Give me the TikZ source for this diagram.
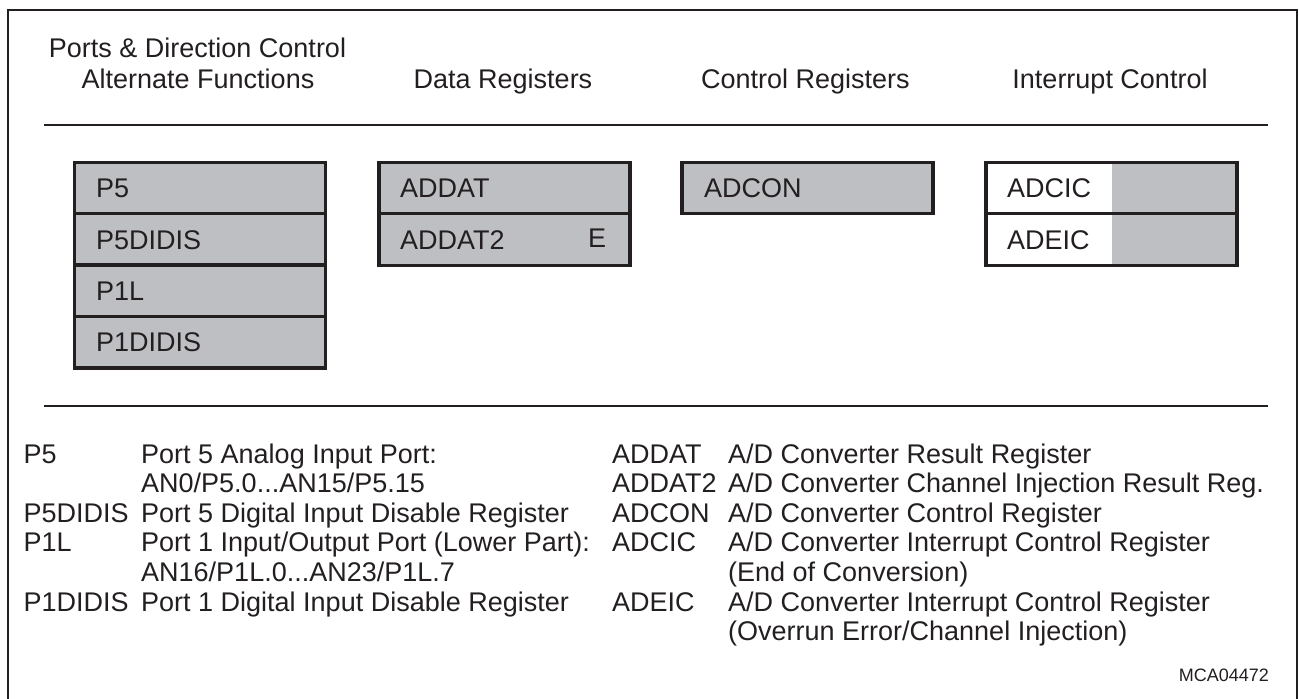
\documentclass[tikz,border=0pt]{standalone}
\usepackage{fontspec}
\setmainfont{Liberation Sans}
\definecolor{regfill}{RGB}{190,191,194}
\definecolor{ink}{RGB}{35,31,32}
\begin{document}
\begin{tikzpicture}[x=1pt,y=-1pt,
  txt/.style={inner sep=0pt, anchor=base west, text=ink, font=\fontsize{27}{29.6}\selectfont},
  ctxt/.style={txt, anchor=base},
  smalltxt/.style={inner sep=0pt, anchor=base east, text=ink, font=\fontsize{18}{20}\selectfont},
  regframe/.style={draw=ink, line width=3.4pt},
  rowline/.style={draw=ink, line width=3.4pt},
  rule/.style={draw=ink, line width=2pt},
  frameline/.style={draw=ink, line width=2.7pt}]
\useasboundingbox (0,0) rectangle (1299,699);
% outer frame
\draw[frameline] (8,699) -- (8,10) -- (1297,10) -- (1297,699);
% headers
\node[ctxt] (h1a) at (197.5,57) {Ports \& Direction Control};
\node[ctxt] (h1b) at (198,88) {Alternate Functions};
\node[ctxt] (h2) at (503,88) {Data Registers};
\node[ctxt] (h3) at (805.5,88) {Control Registers};
\node[ctxt] (h4) at (1110,88) {Interrupt Control};
% dividers
\draw[rule] (44,125) -- (1268,125);
\draw[rule] (44,406) -- (1268,406);
% ports box
\fill[regfill] (74.5,162.3) rectangle (325.5,368);
\draw[rowline] (74.5,213.7) -- (325.5,213.7);
\draw[rowline] (74.5,265.1) -- (325.5,265.1);
\draw[rowline] (74.5,316.5) -- (325.5,316.5);
\draw[regframe] (74.5,162.3) rectangle (325.5,368);
\node[txt] (p5) at (96,197.7) {P5};
\node[txt] (p5didis) at (96,249.1) {P5DIDIS};
\node[txt] (p1l) at (96,300.5) {P1L};
\node[txt] (p1didis) at (96,351.9) {P1DIDIS};
% data box
\fill[regfill] (379,162.3) rectangle (630,265.3);
\draw[rowline] (379,213.7) -- (630,213.7);
\draw[regframe] (379,162.3) rectangle (630,265.3);
\node[txt] (addat) at (400,197.7) {ADDAT};
\node[txt] (addat2) at (400,249.1) {ADDAT2};
\node[txt] (e) at (588,247) {E};
% control box
\fill[regfill] (682,162.3) rectangle (933,213.3);
\draw[regframe] (682,162.3) rectangle (933,213.3);
\node[txt] (adcon) at (704,197.5) {ADCON};
% interrupt box
\fill[white] (986,162.3) rectangle (1112,265.3);
\fill[regfill] (1112,162.3) rectangle (1237,265.3);
\draw[rowline] (986,213.7) -- (1237,213.7);
\draw[regframe] (986,162.3) rectangle (1237,265.3);
\node[txt] (adcic) at (1007,197.7) {ADCIC};
\node[txt] (adeic) at (1007,249.1) {ADEIC};
% legend left
\node[txt] (l1) at (23.5,463) {P5};
\node[txt] (d1) at (141,463) {Port 5 Analog Input Port:};
\node[txt] (d1b) at (141,492.6) {AN0/P5.0...AN15/P5.15};
\node[txt] (l2) at (23.5,522.2) {P5DIDIS};
\node[txt] (d2) at (141,522.2) {Port 5 Digital Input Disable Register};
\node[txt] (l3) at (23.5,551.8) {P1L};
\node[txt] (d3) at (141,551.8) {Port 1 Input/Output Port (Lower Part):};
\node[txt] (d3b) at (141,581.4) {AN16/P1L.0...AN23/P1L.7};
\node[txt] (l4) at (23.5,611) {P1DIDIS};
\node[txt] (d4) at (141,611) {Port 1 Digital Input Disable Register};
% legend right
\node[txt] (r1) at (612,463) {ADDAT};
\node[txt] (e1) at (728,463) {A/D Converter Result Register};
\node[txt] (r2) at (612,492.6) {ADDAT2};
\node[txt] (e2) at (728,492.6) {A/D Converter Channel Injection Result Reg.};
\node[txt] (r3) at (612,522.2) {ADCON};
\node[txt] (e3) at (728,522.2) {A/D Converter Control Register};
\node[txt] (r4) at (612,551.8) {ADCIC};
\node[txt] (e4) at (728,551.8) {A/D Converter Interrupt Control Register};
\node[txt] (e4b) at (728,581.4) {(End of Conversion)};
\node[txt] (r5) at (612,611) {ADEIC};
\node[txt] (e5) at (728,611) {A/D Converter Interrupt Control Register};
\node[txt] (e5b) at (728,640.6) {(Overrun Error/Channel Injection)};
\node[smalltxt] (fig) at (1269,681) {MCA04472};
\end{tikzpicture}
\end{document}
